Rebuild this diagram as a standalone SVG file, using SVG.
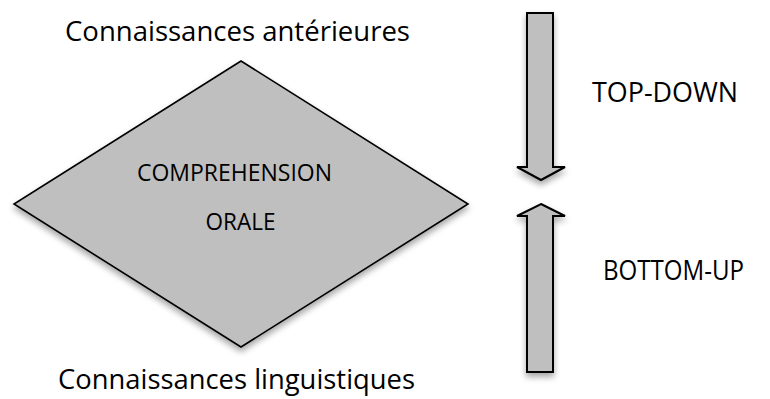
<svg xmlns="http://www.w3.org/2000/svg" width="770" height="399" viewBox="0 0 770 399">
  <style>
    .shape { fill: #bfbfbf; stroke: #000; stroke-width: 1.6; stroke-linejoin: miter; filter: url(#shadow); }
    .arrow { fill: #bfbfbf; stroke: #000; stroke-width: 2; stroke-linejoin: miter; filter: url(#shadow); }
    .lbl { font-family: "Open Sans", "Liberation Sans", sans-serif; fill: #000; }
    .big { font-size: 28px; }
    .mid { font-size: 23px; }
  </style>
  <defs>
    <filter id="shadow" x="-20%" y="-20%" width="140%" height="140%">
      <feDropShadow dx="0" dy="4" stdDeviation="3" flood-color="#000" flood-opacity="0.35"/>
    </filter>
  </defs>
  <rect width="770" height="399" fill="#fff"/>

  <g id="title-top">
    <text class="lbl big" x="65" y="41" textLength="345" lengthAdjust="spacingAndGlyphs">Connaissances antérieures</text>
  </g>

  <g id="comprehension">
    <polygon class="shape" points="241,61 468,204 241,347 14,204"/>
    <text class="lbl mid" x="234.5" y="181" text-anchor="middle" textLength="195" lengthAdjust="spacingAndGlyphs">COMPREHENSION</text>
    <text class="lbl mid" x="240.5" y="230" text-anchor="middle" textLength="70" lengthAdjust="spacingAndGlyphs">ORALE</text>
  </g>

  <g id="title-bottom">
    <text class="lbl big" x="58" y="389" textLength="357" lengthAdjust="spacingAndGlyphs">Connaissances linguistiques</text>
  </g>

  <g id="connectors">
    <g id="top-down-arrow">
      <polygon class="arrow" points="527,13 553,13 553,167 565,167 541,180 517,167 527,167"/>
    </g>
    <g id="bottom-up-arrow">
      <polygon class="arrow" points="541,204 565,216 553,216 553,372 527,372 527,216 517,216"/>
    </g>
  </g>

  <g id="label-top-down">
    <text class="lbl big" x="592" y="102" textLength="146" lengthAdjust="spacingAndGlyphs">TOP-DOWN</text>
  </g>
  <g id="label-bottom-up">
    <text class="lbl big" x="603" y="280" textLength="141" lengthAdjust="spacingAndGlyphs">BOTTOM-UP</text>
  </g>
</svg>
